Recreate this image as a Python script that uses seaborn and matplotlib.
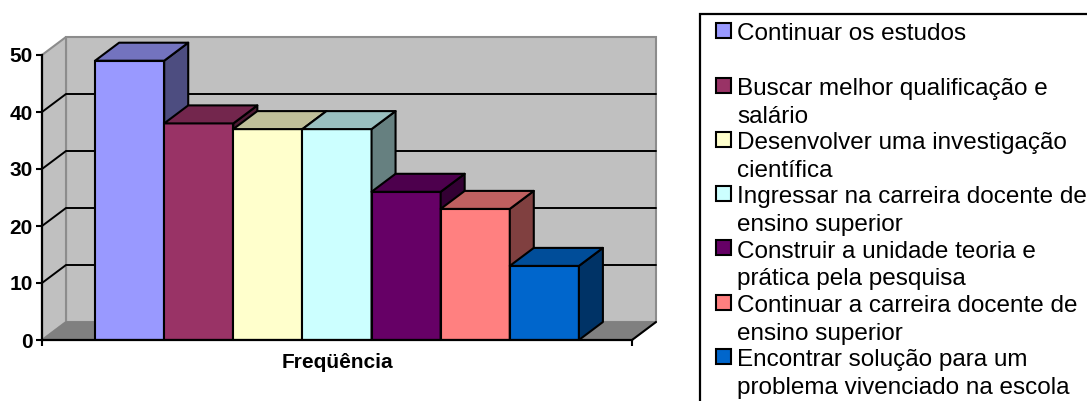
import textwrap
import numpy as np
import pandas as pd
import matplotlib
matplotlib.use("Agg")
import matplotlib.pyplot as plt
from matplotlib.patches import Polygon, Rectangle
from matplotlib.colors import to_rgb
import seaborn as sns

# ---- data ----
categoria = ["Freqüência"]
respostas = [
    "Continuar os estudos",
    "Buscar melhor qualificação e salário",
    "Desenvolver uma investigação científica",
    "Ingressar na carreira docente de ensino superior",
    "Construir a unidade teoria e prática pela pesquisa",
    "Continuar a carreira docente de ensino superior",
    "Encontrar solução para um problema vivenciado na escola",
]
frequencias = [49, 38, 37, 37, 26, 23, 13]
cores = ["#9999FF", "#993366", "#FFFFCC", "#CCFFFF", "#660066", "#FF8080", "#0066CC"]
y_ticks = [0, 10, 20, 30, 40, 50]

sns.set_style("white")
plt.rcParams["font.family"] = ["Liberation Sans", "DejaVu Sans"]
plt.rcParams["text.color"] = "black"
plt.rcParams["xtick.color"] = "black"
plt.rcParams["ytick.color"] = "black"

W, H = 1087, 401
fig = plt.figure(figsize=(W / 100, H / 100), dpi=100)
fig.patch.set_facecolor("white")

# front plane of the plot box, in pixels
L, R, T, B = 42, 632, 55, 340
ax = fig.add_axes([L / W, 1 - B / H, (R - L) / W, (B - T) / H])
ax.set_facecolor("none")

df = pd.DataFrame({
    "grupo": categoria * len(respostas),
    "resposta": respostas,
    "freq": frequencias,
})
sns.barplot(data=df, x="grupo", y="freq", hue="resposta", hue_order=respostas,
            palette=cores, saturation=1, width=0.82, gap=0, errorbar=None,
            edgecolor="black", linewidth=1.5, legend=False, ax=ax)
bars = list(ax.patches)

x0, x1 = -0.5, 0.5
ymax = y_ticks[-1]
ax.set_xlim(x0, x1)
ax.set_ylim(0, ymax)

# depth of the 3-D box, converted from pixels to data units
DX_PX, DY_PX = 24, 18
ddx = DX_PX / (R - L) * (x1 - x0)
ddy = DY_PX / (B - T) * ymax

wall_grey, wall_edge, floor_grey = "#c0c0c0", "#8c8c8c", "#808080"

# back wall, left wall and floor
ax.add_patch(Polygon([(x0 + ddx, ddy), (x1 + ddx, ddy), (x1 + ddx, ymax + ddy), (x0 + ddx, ymax + ddy)],
                     closed=True, facecolor=wall_grey, edgecolor=wall_edge, linewidth=1.5,
                     zorder=0.5, clip_on=False))
ax.add_patch(Polygon([(x0, 0), (x0 + ddx, ddy), (x0 + ddx, ymax + ddy), (x0, ymax)],
                     closed=True, facecolor=wall_grey, edgecolor=wall_edge, linewidth=1.5,
                     zorder=0.6, clip_on=False))
ax.add_patch(Polygon([(x0, 0), (x1, 0), (x1 + ddx, ddy), (x0 + ddx, ddy)],
                     closed=True, facecolor=floor_grey, edgecolor=floor_grey, linewidth=1.0,
                     zorder=0.7, clip_on=False))
ax.plot([x1, x1 + ddx], [0, ddy], color="black", lw=1.5, zorder=0.8, clip_on=False)

# gridlines running along the side wall and across the back wall
for v in y_ticks[1:-1]:
    ax.plot([x0, x0 + ddx, x1 + ddx], [v, v + ddy, v + ddy], color="black", lw=1.4,
            zorder=1, clip_on=False, solid_joinstyle="miter")

# extrude each bar: top and right faces, shaded from the front colour
for i, bar in enumerate(bars):
    z = 3 + 2 * i
    bar.set_zorder(z)
    bx, bw, bh = bar.get_x(), bar.get_width(), bar.get_height()
    rgb = np.array(to_rgb(bar.get_facecolor()))
    ax.add_patch(Polygon([(bx + bw, 0), (bx + bw + ddx, ddy), (bx + bw + ddx, bh + ddy), (bx + bw, bh)],
                         closed=True, facecolor=rgb * 0.5, edgecolor="black", linewidth=1.5,
                         zorder=z + 1, clip_on=False, joinstyle="round"))
    ax.add_patch(Polygon([(bx, bh), (bx + bw, bh), (bx + bw + ddx, bh + ddy), (bx + ddx, bh + ddy)],
                         closed=True, facecolor=rgb * 0.75, edgecolor="black", linewidth=1.5,
                         zorder=z + 1, clip_on=False, joinstyle="round"))

# axes, ticks and labels
for side in ("top", "right"):
    ax.spines[side].set_visible(False)
for side in ("left", "bottom"):
    ax.spines[side].set_color("black")
    ax.spines[side].set_linewidth(1.6)
    ax.spines[side].set_zorder(30)

ax.set_yticks(y_ticks)
ax.tick_params(axis="y", left=True, direction="out", length=4.5, width=1.5,
               color="black", labelcolor="black", pad=2, labelsize=15)
ax.set_xticks([x0, x1], minor=True)
ax.tick_params(axis="x", which="major", bottom=True, length=0, pad=9, labelsize=15,
               labelcolor="black")
ax.tick_params(axis="x", which="minor", bottom=True, direction="out", length=4.5,
               width=1.5, color="black")
for lbl in ax.get_yticklabels() + ax.get_xticklabels():
    lbl.set_fontweight("bold")
    lbl.set_color("black")
ax.set_xlabel("")
ax.set_ylabel("")

# legend box, running off the right and bottom edges
fig.add_artist(Rectangle((700 / W, -0.1), 1.0, (1 - 14 / H) + 0.1, transform=fig.transFigure,
                         facecolor="white", edgecolor="black", linewidth=1.6))
for k, (nome, cor) in enumerate(zip(respostas, cores)):
    base = 40.5 + k * 54.3
    fig.add_artist(Rectangle((716 / W, 1 - (base - 2.3) / H), 15 / W, 15 / H,
                             transform=fig.transFigure, facecolor=cor,
                             edgecolor="black", linewidth=1.5))
    for j, linha in enumerate(textwrap.wrap(nome, 32)):
        fig.text(737 / W, 1 - (base + j * 27.8) / H, linha, fontsize=17.5,
                 ha="left", va="baseline", color="black")

fig.savefig("out.png", dpi=100, facecolor="white")
